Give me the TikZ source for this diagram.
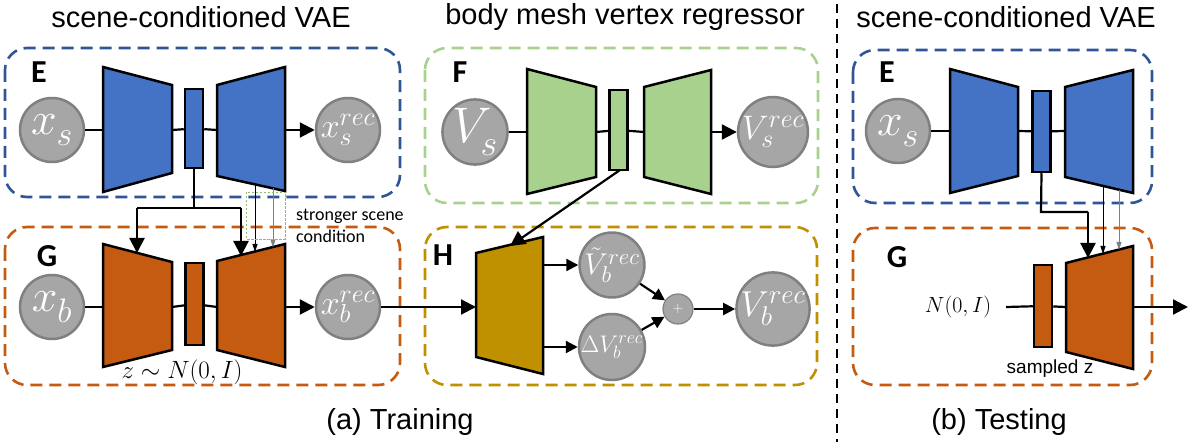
\RequirePackage{fix-cm}
\documentclass[tikz,border=0pt]{standalone}
\usepackage{fontspec}
\setmainfont{Liberation Sans}
\newfontfamily\calibri{Carlito}
\usetikzlibrary{arrows.meta}
\definecolor{eblue}{HTML}{4472C4}
\definecolor{eblueD}{HTML}{2F5597}
\definecolor{gorange}{HTML}{C55A11}
\definecolor{fgreen}{HTML}{A9D18E}
\definecolor{hgold}{HTML}{BF9000}
\definecolor{cgray}{HTML}{A6A6A6}
\definecolor{cgrayD}{HTML}{808080}
\definecolor{dotgreen}{HTML}{70AD47}
% circle label: #1 base size, #2 symbol, #3 sub, #4 sup, #5 script size
\newcommand\clab[5]{{\fontsize{#1}{#1}\selectfont$#2_{\mbox{\fontsize{#5}{#5}\selectfont$#3$}}^{\mbox{\fontsize{#5}{#5}\selectfont$#4$}}$}}
\tikzset{
  box/.style={rounded corners=22pt, line width=2.6pt, dash pattern=on 12pt off 7pt},
  circ/.style={circle, fill=cgray, draw=cgrayD, line width=2.5pt, minimum size=64pt, inner sep=0pt, text=white},
  pluscirc/.style={circle, fill=cgray, draw=cgrayD, line width=1.2pt, minimum size=30pt, inner sep=0pt, text=white},
  latent/.style={draw=black, line width=2.5pt, minimum width=18pt, inner sep=0pt},
  trap/.style={draw=black, line width=2.5pt, line join=miter},
  conn/.style={line width=2.2pt},
  arr/.style={line width=2.2pt, -{Triangle[length=15pt,width=15pt]}},
  harr/.style={line width=2.2pt, -{Triangle[length=12pt,width=12pt]}},
  thinarr/.style={line width=0.9pt, -{Triangle[length=8pt,width=5pt]}},
  title/.style={font=\fontsize{29}{32}\selectfont},
  lab/.style={font=\calibri\bfseries\fontsize{32}{34}\selectfont},
}
\begin{document}
\begin{tikzpicture}[x=1pt,y=-1pt]
\useasboundingbox (0,0) rectangle (1196,446);
% titles
\node[title] (t1) at (201,17) {scene-conditioned VAE};
\node[title] (t2) at (625,17) {body mesh vertex regressor};
\node[title] (t3) at (1006,17) {scene-conditioned VAE};
\node[title] (c1) at (400,422) {(a) Training};
\node[title] (c2) at (999,422) {(b) Testing};
% separator
\coordinate (sepT) at (837,4);
\coordinate (sepB) at (837,442);
\draw[line width=2pt, dash pattern=on 9pt off 6pt] (sepT) -- (sepB);

% ---------- boxes ----------
\draw[box, eblueD] (5,48) rectangle (400,197);
\draw[box, gorange] (5,227) rectangle (400,385);
\draw[box, fgreen] (425,48) rectangle (818,203);
\draw[box, hgold] (425,227) rectangle (817,385);
\draw[box, eblueD] (853,50) rectangle (1152,203);
\draw[box, gorange] (853,228) rectangle (1152,385);

\node[lab] (lE) at (39,72) {E};
\node[lab] (lG) at (47,256) {G};
\node[lab] (lF) at (460,72) {F};
\node[lab] (lH) at (443,255) {H};
\node[lab] (lE2) at (887,72) {E};
\node[lab] (lG2) at (897,257) {G};

% ---------- E (training) ----------
\node[circ] (xs) at (52,130) {\clab{46}{x}{s}{}{34}};
\node[circ] (xsr) at (348,130) {\clab{34}{x}{s}{rec}{26}};
\draw[trap, fill=eblue] (103,67) -- (172,85) -- (172,173) -- (103,192) -- cycle;
\coordinate (eEl) at (103,130); \coordinate (eEr) at (172,130);
\node[latent, fill=eblue, minimum height=79pt] (eL) at (194,128.5) {};
\draw[trap, fill=eblue] (217,85) -- (285,67) -- (285,191) -- (217,176) -- cycle;
\coordinate (eDl) at (217,130); \coordinate (eDr) at (285,130);
\draw[conn] (xs) -- (eEl);
\draw[conn] (eEr) -- (eL);
\draw[conn] (eL) -- (eDl);
\draw[arr] (eDr) -- (xsr);

% ---------- G (training) ----------
\node[circ] (xb) at (52,307) {\clab{46}{x}{b}{}{34}};
\node[circ] (xbr) at (348,307) {\clab{34}{x}{b}{rec}{26}};
\draw[trap, fill=gorange] (103,244) -- (172,262) -- (172,350) -- (103,367) -- cycle;
\coordinate (gEl) at (103,307); \coordinate (gEr) at (172,307);
\node[latent, fill=gorange, minimum height=82pt] (gL) at (194.5,304) {};
\draw[trap, fill=gorange] (217,261) -- (285,244) -- (285,367) -- (217,350) -- cycle;
\coordinate (gDl) at (217,307); \coordinate (gDr) at (285,307);
\draw[conn] (xb) -- (gEl);
\draw[conn] (gEr) -- (gL);
\draw[conn] (gL) -- (gDl);
\draw[arr] (gDr) -- (xbr);
\node[font=\fontsize{25}{25}\selectfont] (zlab) at (182,372) {$z\sim N(0,I)$};

% conditioning from E to G
\coordinate (j1) at (194,208);
\coordinate (jl) at (137,208);
\coordinate (jr) at (241,208);
\coordinate (gEt) at (137,253);
\coordinate (gDt) at (241,256);
\draw[conn] (eL.south) -- (j1);
\draw[conn] (jl) -- (jr);
\draw[arr] (jl) -- (gEt);
\draw[arr] (jr) -- (gDt);
\coordinate (s1a) at (255,184); \coordinate (s1b) at (255,252);
\coordinate (s2a) at (273,188); \coordinate (s2b) at (273,247.5);
\draw[thinarr] (s1a) -- (s1b);
\draw[thinarr, cgrayD] (s2a) -- (s2b);
\draw[dotgreen!80, line width=0.7pt, dash pattern=on 2.5pt off 1.5pt] (246,192) rectangle (285,239);
\node[anchor=west, align=left, font=\calibri\fontsize{18}{22}\selectfont, inner sep=0pt] (strong) at (296,226) {stronger scene\\condition};

% ---------- F ----------
\node[circ] (Vs) at (475,132) {\clab{50}{V}{s}{}{36}};
\node[circ] (Vsr) at (773,132) {\clab{34}{V}{s}{rec}{26}};
\draw[trap, fill=fgreen] (527,69) -- (596,87) -- (596,177) -- (527,194) -- cycle;
\coordinate (fEl) at (527,132); \coordinate (fEr) at (596,132);
\node[latent, fill=fgreen, minimum height=80pt] (fL) at (618.5,130) {};
\draw[trap, fill=fgreen] (644,87) -- (711,70) -- (711,194) -- (644,177) -- cycle;
\coordinate (fDl) at (644,132); \coordinate (fDr) at (711,132);
\draw[conn] (Vs) -- (fEl);
\draw[conn] (fEr) -- (fL);
\draw[conn] (fL) -- (fDl);
\draw[arr] (fDr) -- (Vsr);

% ---------- H ----------
\draw[trap, fill=hgold] (476,253) -- (543,237) -- (543,374) -- (476,357) -- cycle;
\coordinate (hl) at (476,307);
\coordinate (hr1) at (543,265); \coordinate (hr2) at (543,347);
\coordinate (ht) at (510,246);
\coordinate (fLb) at (620,170);
\draw[arr] (fLb) -- (ht);
\draw[arr] (xbr) -- (hl);
\node[circ] (Vt) at (612,265) {\clab{30}{\tilde{V}}{b}{rec}{23}};
\node[circ] (dV) at (612,347) {\clab{24}{\Delta V}{b}{rec}{18}};
\node[pluscirc, font=\fontsize{14}{14}\selectfont] (plus) at (678,309) {$+$};
\node[circ] (Vbr) at (773,309) {\clab{36}{V}{b}{rec}{27}};
\draw[harr] (hr1) -- (Vt);
\draw[harr] (hr2) -- (dV);
\draw[harr] (Vt) -- (plus);
\draw[harr] (dV) -- (plus);
\draw[harr] (plus) -- (Vbr);

% ---------- E (testing) ----------
\node[circ] (xs2) at (898,131) {\clab{46}{x}{s}{}{34}};
\draw[trap, fill=eblue] (950,69) -- (1018,87) -- (1018,176) -- (950,193) -- cycle;
\coordinate (tEl) at (950,131); \coordinate (tEr) at (1018,131);
\node[latent, fill=eblue, minimum height=81pt] (tL) at (1041.5,131.5) {};
\draw[trap, fill=eblue] (1065,87) -- (1133,70) -- (1133,193) -- (1065,177) -- cycle;
\coordinate (tDl) at (1065,131);
\draw[conn] (xs2) -- (tEl);
\draw[conn] (tEr) -- (tL);
\draw[conn] (tL) -- (tDl);

% ---------- G (testing) ----------
\node[font=\fontsize{22}{22}\selectfont] (nlab) at (958,307) {$N(0,I)$};
\coordinate (nin) at (1006,307);
\node[latent, fill=gorange, minimum height=82pt] (tgL) at (1043,306) {};
\draw[trap, fill=gorange] (1066,263) -- (1133,246) -- (1133,369) -- (1066,352) -- cycle;
\coordinate (tgDl) at (1066,307); \coordinate (tgDr) at (1133,307);
\coordinate (tout) at (1188,307);
\draw[conn] (nin) -- (tgL);
\draw[conn] (tgL) -- (tgDl);
\draw[arr] (tgDr) -- (tout);
\node[font=\fontsize{19}{20}\selectfont] (samp) at (1050,369) {sampled z};

\coordinate (tj0) at (1041,212);
\coordinate (tj1) at (1088,212);
\coordinate (tgt) at (1088,258);
\draw[conn] (tL.south) -- (tj0) -- (tj1);
\draw[arr] (tj1) -- (tgt);
\coordinate (u1a) at (1103,186); \coordinate (u1b) at (1103,254);
\coordinate (u2a) at (1119,190); \coordinate (u2b) at (1119,250);
\draw[thinarr] (u1a) -- (u1b);
\draw[thinarr, cgrayD] (u2a) -- (u2b);
\end{tikzpicture}
\end{document}
